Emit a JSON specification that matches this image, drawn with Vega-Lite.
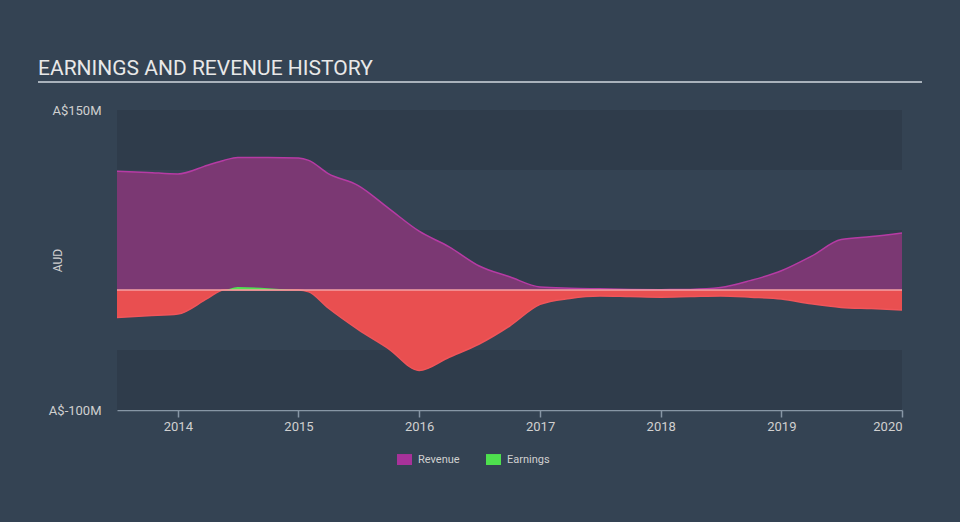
{
  "$schema": "https://vega.github.io/schema/vega-lite/v6.json",
  "width": 785,
  "height": 300,
  "autosize": "none",
  "padding": {"left": 117, "top": 110, "right": 58, "bottom": 112},
  "background": "#344353",
  "title": {
    "text": "EARNINGS AND REVENUE HISTORY",
    "anchor": "start",
    "frame": "group",
    "dx": -79,
    "offset": 2,
    "font": "Roboto",
    "fontSize": 21,
    "fontWeight": "normal",
    "color": "#e8e8e8"
  },
  "config": {
    "view": {"stroke": null},
    "font": "Roboto",
    "legend": {
      "orient": "none",
      "legendX": 280,
      "legendY": 342,
      "direction": "horizontal",
      "labelColor": "#d0d0d0",
      "labelFontSize": 11,
      "labelFont": "Roboto",
      "labelOffset": 6,
      "symbolType": "M-1,-0.73H1V0.73H-1Z",
      "symbolSize": 225,
      "symbolStrokeWidth": 0,
      "columnPadding": 26,
      "title": null
    }
  },
  "datasets": {
    "hist": [
      {"date": "2013-07-01", "revenue": 99, "neg": -23, "pos": 0},
      {"date": "2013-10-01", "revenue": 98, "neg": -21.5, "pos": 0},
      {"date": "2014-01-01", "revenue": 96.7, "neg": -20, "pos": 0},
      {"date": "2014-04-01", "revenue": 104, "neg": -7, "pos": 0},
      {"date": "2014-05-20", "revenue": 108, "neg": 0, "pos": 0},
      {"date": "2014-07-01", "revenue": 110.5, "neg": 0, "pos": 2.5},
      {"date": "2014-10-01", "revenue": 110.5, "neg": 0, "pos": 1.5},
      {"date": "2015-01-01", "revenue": 110, "neg": 0, "pos": 0},
      {"date": "2015-02-01", "revenue": 108, "neg": -1.5, "pos": 0},
      {"date": "2015-04-01", "revenue": 97, "neg": -15, "pos": 0},
      {"date": "2015-07-01", "revenue": 87, "neg": -33, "pos": 0},
      {"date": "2015-10-01", "revenue": 68, "neg": -49, "pos": 0},
      {"date": "2016-01-01", "revenue": 49, "neg": -67, "pos": 0},
      {"date": "2016-04-01", "revenue": 36, "neg": -56, "pos": 0},
      {"date": "2016-07-01", "revenue": 20, "neg": -45, "pos": 0},
      {"date": "2016-10-01", "revenue": 11, "neg": -30, "pos": 0},
      {"date": "2017-01-01", "revenue": 2.5, "neg": -12, "pos": 0},
      {"date": "2017-04-01", "revenue": 1.5, "neg": -7, "pos": 0},
      {"date": "2017-07-01", "revenue": 1, "neg": -5, "pos": 0},
      {"date": "2017-10-01", "revenue": 0.5, "neg": -5.5, "pos": 0},
      {"date": "2018-01-01", "revenue": 0.3, "neg": -6, "pos": 0},
      {"date": "2018-04-01", "revenue": 0.5, "neg": -5.5, "pos": 0},
      {"date": "2018-07-01", "revenue": 2, "neg": -5, "pos": 0},
      {"date": "2018-10-01", "revenue": 8, "neg": -6, "pos": 0},
      {"date": "2019-01-01", "revenue": 16, "neg": -7.5, "pos": 0},
      {"date": "2019-04-01", "revenue": 28, "neg": -11.5, "pos": 0},
      {"date": "2019-07-01", "revenue": 42, "neg": -14.5, "pos": 0},
      {"date": "2019-10-01", "revenue": 44.5, "neg": -15.5, "pos": 0},
      {"date": "2020-01-01", "revenue": 47.5, "neg": -16.7, "pos": 0}
    ],
    "bands": [
      {"top": 150, "bottom": 100},
      {"top": 50, "bottom": 0},
      {"top": -50, "bottom": -100}
    ]
  },
  "layer": [
    {
      "data": {"name": "bands"},
      "mark": {"type": "rect", "color": "#2f3c4b", "opacity": 1},
      "encoding": {
        "y": {
          "field": "top",
          "type": "quantitative",
          "scale": {"domain": [-100, 150], "nice": false, "zero": false},
          "axis": {
            "values": [150, -100],
            "labelExpr": "'A$' + datum.value + 'M'",
            "domain": false,
            "ticks": false,
            "grid": false,
            "labelColor": "#d0d0d0",
            "labelFontSize": 13,
            "labelPadding": 16,
            "title": "AUD",
            "titleColor": "#d0d0d0",
            "titleFontSize": 12,
            "titleFontWeight": "normal",
            "titleX": -60,
            "titleY": 150,
            "titleAngle": 270,
            "titleAlign": "center",
            "titleBaseline": "middle"
          }
        },
        "y2": {"field": "bottom"}
      }
    },
    {
      "data": {"name": "hist"},
      "mark": {"type": "area", "interpolate": "monotone", "color": "#7b3873", "opacity": 1, "fillOpacity": 1, "line": {"color": "#b63ba4", "strokeWidth": 1.5}},
      "encoding": {
        "x": {
          "field": "date",
          "type": "temporal",
          "scale": {"domain": [{"year": 2013, "month": 7, "date": 1}, {"year": 2020, "month": 1, "date": 1}]},
          "axis": {
            "title": null,
            "format": "%Y",
            "tickCount": {"interval": "year", "step": 1},
            "grid": false,
            "domainColor": "#8796a5",
            "domainWidth": 1.5,
            "tickColor": "#8796a5",
            "tickWidth": 1.5,
            "tickSize": 7,
            "labelColor": "#d0d0d0",
            "labelFontSize": 13,
            "labelPadding": 3
          }
        },
        "y": {"field": "revenue", "type": "quantitative"},
        "y2": {"datum": 0}
      }
    },
    {
      "data": {"name": "hist"},
      "mark": {"type": "area", "interpolate": "monotone", "color": "#e94f50", "opacity": 1, "fillOpacity": 1, "line": {"color": "#f0555a", "strokeWidth": 1.5}},
      "encoding": {
        "x": {"field": "date", "type": "temporal"},
        "y": {"field": "neg", "type": "quantitative"},
        "y2": {"datum": 0}
      }
    },
    {
      "data": {"name": "hist"},
      "mark": {"type": "area", "interpolate": "monotone", "color": "#52e052", "opacity": 1, "fillOpacity": 1},
      "encoding": {
        "x": {"field": "date", "type": "temporal"},
        "y": {"field": "pos", "type": "quantitative"},
        "y2": {"datum": 0}
      }
    },
    {
      "data": {"values": [{"v": 0}]},
      "mark": {"type": "rule", "color": "#f3a0a4", "strokeWidth": 1.5},
      "encoding": {"y": {"field": "v", "type": "quantitative"}}
    },
    {
      "data": {"values": [{"v": 0}]},
      "mark": {"type": "rule", "color": "#a9b2bb", "strokeWidth": 2, "clip": false},
      "encoding": {"x": {"value": -79}, "x2": {"value": 805}, "y": {"value": -28}}
    },
    {
      "data": {"values": [{"series": "Revenue"}, {"series": "Earnings"}]},
      "mark": {"type": "point", "shape": "square", "filled": true, "opacity": 0},
      "encoding": {
        "color": {
          "field": "series",
          "type": "nominal",
          "scale": {"domain": ["Revenue", "Earnings"], "range": ["#a8329a", "#4ee04e"]},
          "legend": {"symbolOpacity": 1}
        }
      }
    }
  ]
}
